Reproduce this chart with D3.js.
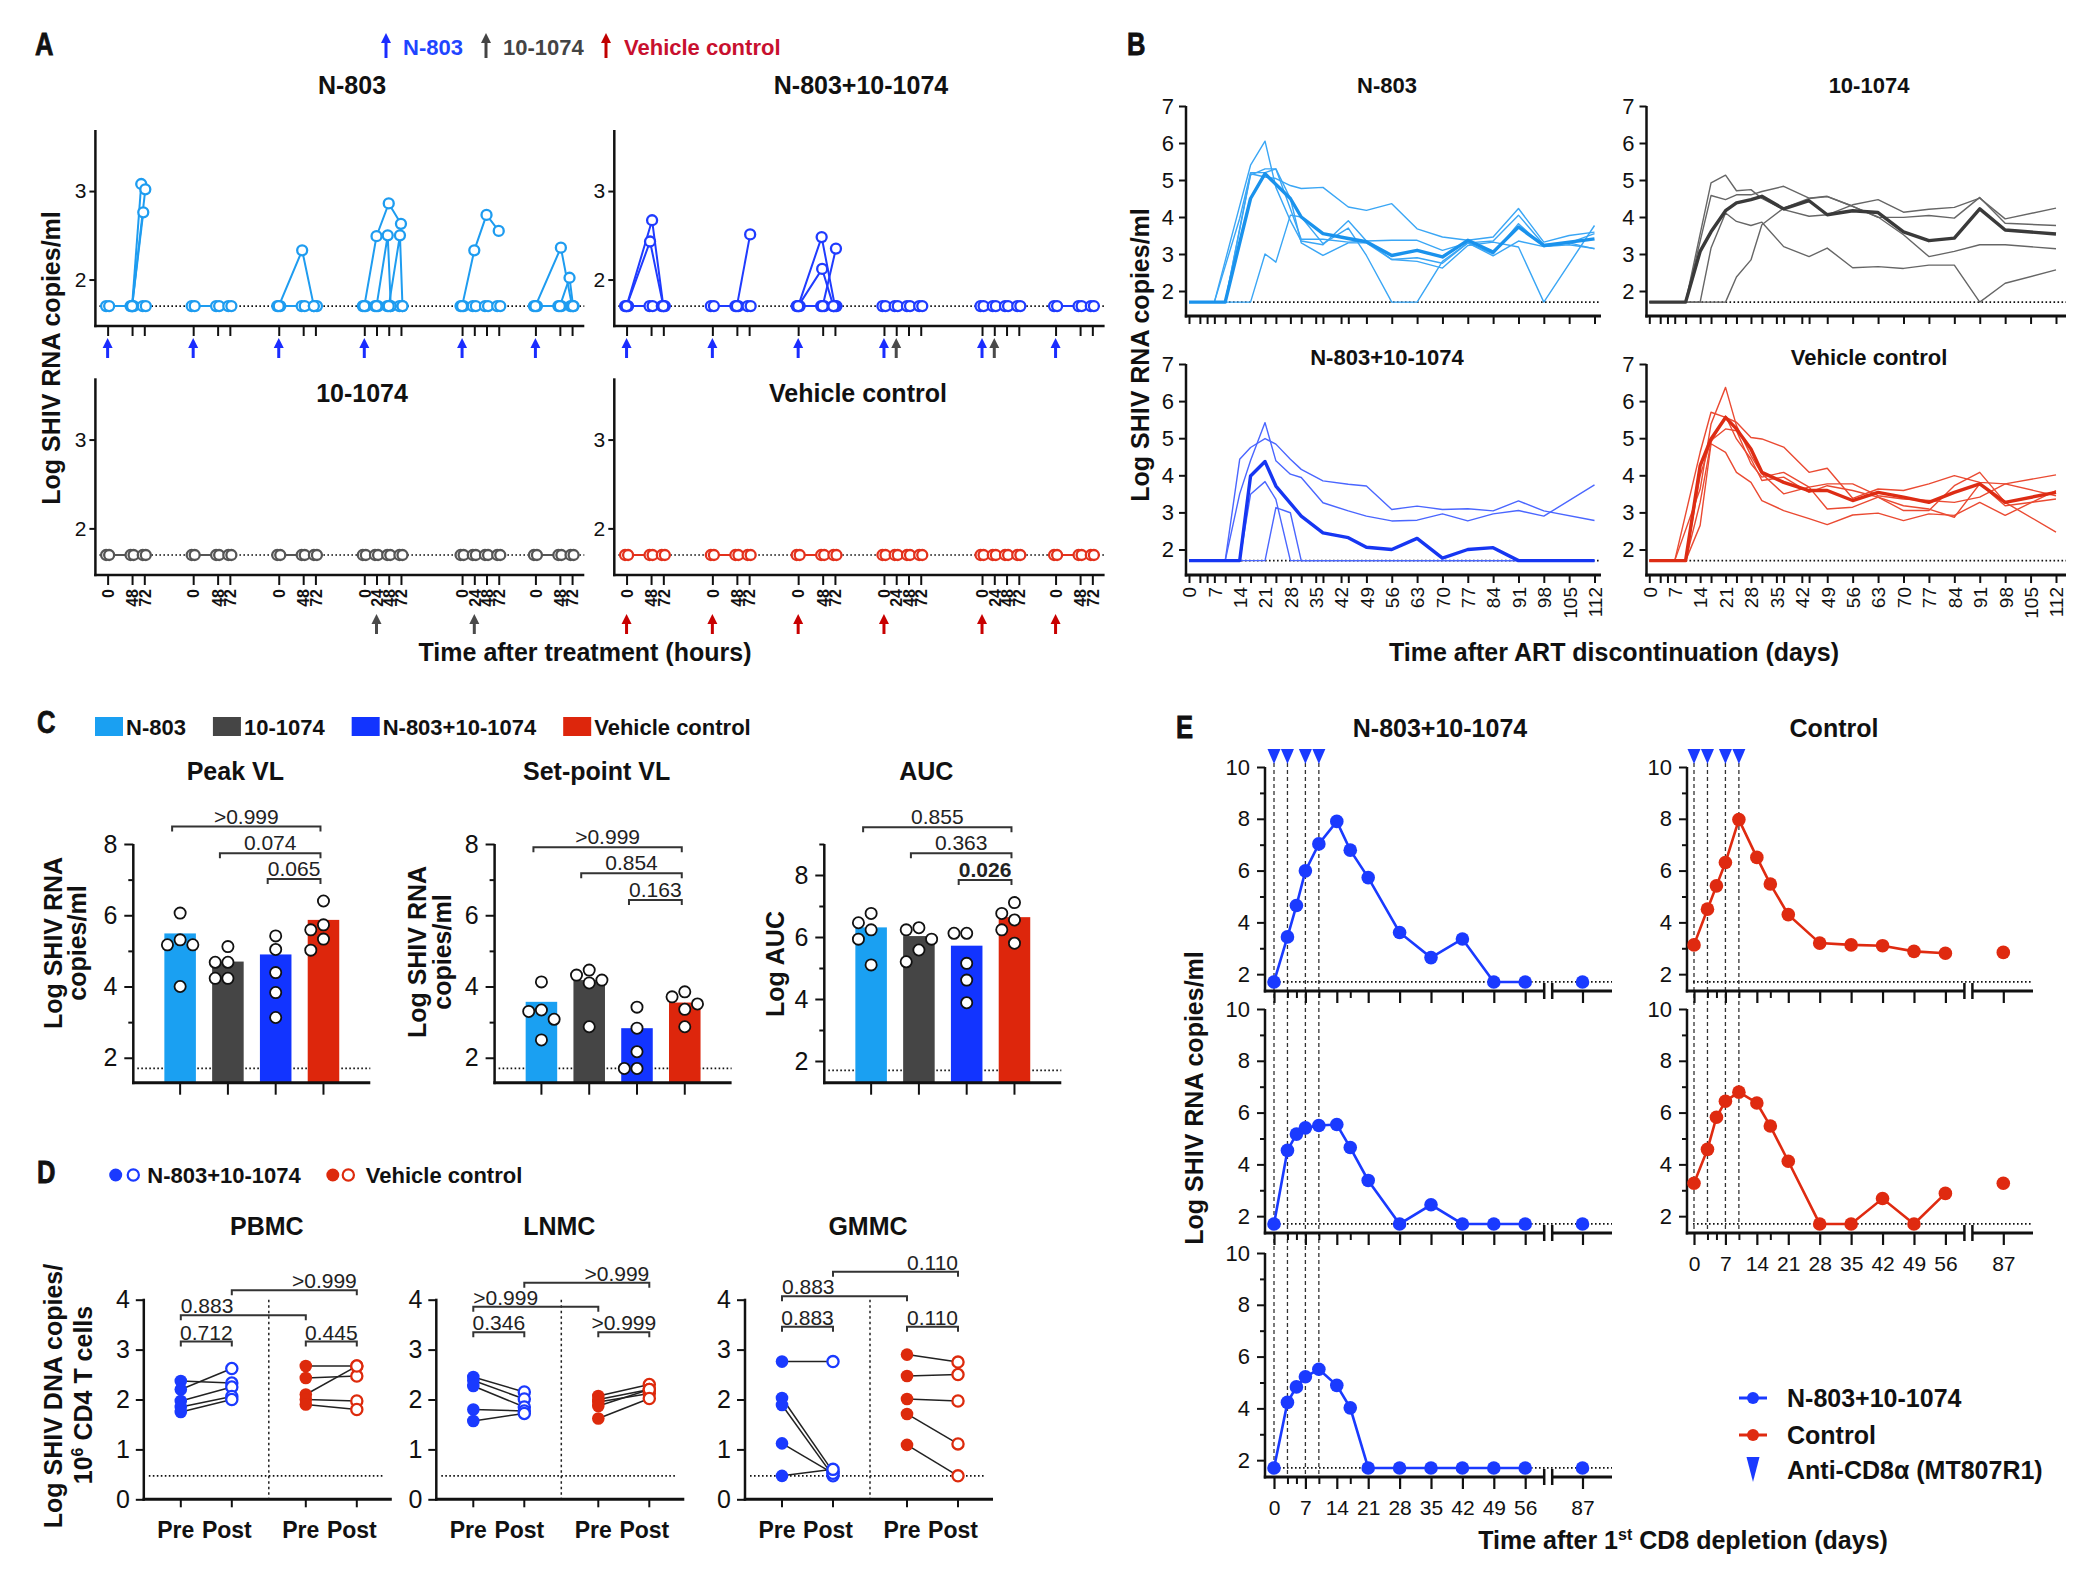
<!DOCTYPE html>
<html>
<head>
<meta charset="utf-8">
<script src="https://cdn.jsdelivr.net/npm/d3@7/dist/d3.min.js"></script>
<style>
  html,body{margin:0;padding:0;background:#fff;}
  svg{display:block;}
</style>
</head>
<body>
<svg id="fig" width="2100" height="1578" viewBox="0 0 2100 1578"></svg>
<script>
// ======================= DATA =======================
const LOD = 1.7;

// ---- Panel A: VL after each treatment (hours after dose) ----
const A_doseDays = [0, 7, 14, 21, 29, 35];
const A_sampleHours = [[0,48,72],[0,48,72],[0,48,72],[0,24,48,72],[0,24,48,72],[0,48,72]];
const A_mabDays = [22, 30];
const A_lodHours = [
  [-3,3,45,51,69,75],
  [-3,3,45,51,69,75],
  [-3,3,45,51,69,75],
  [-3,3,21,27,45,51,69,75],
  [-3,3,21,27,45,51,69,75],
  [-3,3,45,51,69,75]
];
// [dose window, [[hour, log VL], ...]]
const A_N803 = [
  [0, [[48,1.7],[66,3.08]]],
  [0, [[48,1.7],[70,2.76]]],
  [0, [[48,1.7],[74,3.02]]],
  [2, [[0,1.7],[46,2.33],[69,1.7]]],
  [3, [[0,1.7],[24,2.49],[48,2.86],[72,2.63]]],
  [3, [[24,1.7],[46,2.50],[52,1.7]]],
  [3, [[48,1.7],[70,2.50],[75,1.7]]],
  [4, [[0,1.7],[24,2.33],[48,2.73],[72,2.55]]],
  [5, [[0,1.7],[50,2.36],[72,1.7]]],
  [5, [[48,1.7],[67,2.02],[74,1.7]]]
];
const A_COMBO = [
  [0, [[0,1.7],[46,2.43],[72,1.7]]],
  [0, [[0,1.7],[50,2.67],[72,1.7]]],
  [1, [[48,1.7],[74,2.51]]],
  [2, [[0,1.7],[46,2.48],[72,1.7]]],
  [2, [[0,1.7],[47,2.12],[69,1.7]]],
  [2, [[48,1.7],[74,2.35]]]
];

// ---- Panel B: VL after ART discontinuation ----
const B_days = [0,7,10,14,17,21,24,28,31,37,44,49,56,63,70,77,84,91,98,105,112];
const B_ticks = [0,3,5,7,10,14,17,21,24,28,31,35,37,42,44,49,56,63,70,77,84,91,98,105,112];
const B_N803_median = [1.7,1.7,1.7,null,4.5,5.17,null,4.5,4.0,3.55,3.42,3.33,2.96,3.1,2.92,3.37,3.05,3.73,3.23,null,3.41];
const B_N803_animals = [
  [1.7,1.7,null,4.3,5.4,6.05,4.8,3.9,3.35,3.25,3.9,3.35,2.85,2.9,2.75,3.3,3.35,4.05,3.25,3.3,3.55],
  [1.7,1.7,1.7,null,5.17,5.08,5.04,4.85,4.77,4.8,4.27,4.18,4.36,3.68,3.46,3.37,3.46,4.23,3.32,3.5,3.59],
  [1.7,1.7,1.7,1.7,1.7,3.0,2.78,4.05,4.0,3.28,3.7,2.96,1.7,1.7,2.8,3.3,2.95,3.35,3.2,3.25,3.15],
  [1.7,1.7,1.7,null,5.13,5.3,5.3,4.5,3.3,2.96,3.3,3.3,2.85,2.8,2.62,3.23,3.32,3.19,1.7,null,3.77],
  [1.7,1.7,null,3.96,5.2,5.2,5.3,4.22,3.4,3.4,3.32,3.35,3.37,3.37,3.1,3.3,3.0,3.82,3.2,3.3,3.14]
];
const B_MAB_median = [1.7,1.7,1.7,3.07,3.6,4.17,4.38,4.47,4.56,4.22,4.44,4.06,4.17,4.12,3.6,3.36,3.43,4.22,3.65,null,3.54];
const B_MAB_animals = [
  [1.7,1.7,1.7,null,4.92,5.13,4.71,4.74,4.5,4.2,4.02,4.06,4.33,4.47,4.13,4.21,4.26,4.51,3.95,null,4.24],
  [1.7,1.7,1.7,null,4.58,4.47,4.6,4.6,4.69,4.83,4.51,4.56,4.29,3.99,3.99,4.04,3.97,4.53,3.83,null,3.77],
  [1.7,1.7,1.7,1.7,3.16,4.11,3.88,3.77,3.86,3.2,2.93,3.16,2.63,2.66,2.61,2.7,2.7,1.7,2.21,null,2.57],
  [1.7,1.7,1.7,1.7,1.7,1.7,2.38,2.84,3.79,4.24,4.5,4.55,4.29,4.0,3.52,2.93,3.07,3.25,3.25,null,3.14]
];
const B_COMBO_median = [1.7,1.7,1.7,1.7,3.98,4.37,3.71,null,2.9,2.45,2.32,2.06,2.0,2.3,1.77,2.0,2.05,1.7,1.7,1.7,1.7];
const B_COMBO_animals = [
  [1.7,1.7,1.7,3.5,4.4,5.42,4.39,4.03,3.94,3.26,3.04,2.9,2.77,2.79,2.96,2.77,2.96,3.05,2.9,null,3.74],
  [1.7,1.7,1.7,4.43,4.75,4.99,4.84,4.43,4.16,3.85,3.76,3.71,3.08,3.17,3.08,3.1,3.04,3.31,3.04,null,2.78],
  [1.7,1.7,1.7,1.7,3.49,3.83,3.35,1.7,1.7,1.7,1.7,1.7,1.7,1.7,1.7,1.7,1.7,1.7,1.7,1.7,1.7],
  [1.7,1.7,1.7,1.7,1.7,1.7,3.13,2.99,1.7,1.7,1.7,1.7,1.7,1.7,1.7,1.7,1.7,1.7,1.7,1.7,1.7]
];
const B_VEH_median = [1.7,1.7,1.7,4.26,4.98,5.56,5.25,4.71,4.08,3.81,3.59,3.59,3.32,3.54,3.41,3.27,3.54,3.77,3.27,null,3.54];
const B_VEH_animals = [
  [1.7,1.7,null,4.62,5.7,5.56,5.43,5.02,4.98,4.76,4.08,4.19,3.38,3.63,3.59,3.77,3.99,3.81,3.77,null,4.01],
  [1.7,1.7,null,3.63,5.38,6.37,5.34,4.53,4.04,3.5,3.68,3.77,3.77,3.45,3.36,3.32,3.27,3.41,3.77,null,3.45],
  [1.7,1.7,1.7,2.65,4.85,4.62,4.08,3.81,3.32,3.05,2.83,2.67,2.93,2.98,2.78,2.96,2.92,3.27,2.92,null,3.59],
  [1.7,1.7,1.7,3.99,4.94,5.25,5.2,4.31,3.95,4.08,3.68,3.09,3.14,3.41,3.05,3.05,3.72,4.08,3.27,null,2.47],
  [1.7,1.7,1.7,3.27,4.89,5.6,4.98,4.44,3.86,3.95,3.54,3.72,3.59,3.41,3.18,3.09,2.87,3.77,3.18,null,3.36]
];

// ---- Panel C ----
const C_groups = ["N-803","10-1074","N-803+10-1074","Vehicle control"];
const C_peak = [5.49, 4.70, 4.90, 5.87];
const C_peakPts = [[6.06,5.31,5.17,5.17,4.0],[5.12,4.68,4.68,4.23,4.23],[5.42,5.04,4.39,3.83,3.13],[6.40,5.73,5.59,5.33,5.02]];
const C_set = [3.57, 4.18, 2.83, 3.55];
const C_setPts = [[4.13,3.34,3.30,3.08,2.50],[4.46,4.32,4.18,4.10,2.87],[3.42,2.83,2.17,1.7,1.7],[3.85,3.71,3.51,3.36,2.87]];
const C_auc = [6.31, 6.03, 5.72, 6.64];
const C_aucPts = [[6.76,6.46,6.23,5.93,5.10],[6.30,6.23,5.93,5.58,5.20],[6.12,6.12,5.15,4.61,3.88],[7.11,6.76,6.55,6.23,5.80]];
const C_peakBr = [{a:0,b:3,p:">0.999",lv:8.49},{a:1,b:3,p:"0.074",lv:7.74},{a:2,b:3,p:"0.065",lv:7.02}];
const C_setBr  = [{a:0,b:3,p:">0.999",lv:7.91},{a:1,b:3,p:"0.854",lv:7.18},{a:2,b:3,p:"0.163",lv:6.43}];
const C_aucBr  = [{a:0,b:3,p:"0.855",lv:9.54},{a:1,b:3,p:"0.363",lv:8.70},{a:2,b:3,p:"0.026",lv:7.84,bold:true}];

// ---- Panel D ----
const D_tissues = ["PBMC","LNMC","GMMC"];
const D_LOD = 0.47;
const D_preCombo  = [[2.37,2.20,1.97,1.85,1.75],[2.45,2.38,2.27,1.80,1.57],[2.76,2.03,1.89,1.12,0.47]];
const D_postCombo = [[2.33,2.62,2.25,2.06,2.00],[2.15,2.01,1.85,1.77,1.72],[2.76,0.55,0.47,0.52,0.60]];
const D_preVeh    = [[2.67,2.43,2.10,2.00,1.90],[2.07,2.00,1.95,1.87,1.62],[2.90,2.47,2.01,1.71,1.09]];
const D_postVeh   = [[2.67,2.47,2.67,1.97,1.80],[2.30,2.20,2.12,2.20,2.02],[2.75,2.50,1.97,1.11,0.47]];
// brackets: slots 0=Pre combo,1=Post combo,2=Pre vehicle,3=Post vehicle
const D_brackets = [
  [{a:0,b:1,p:"0.712",lv:3.16,al:"middle"},{a:2,b:3,p:"0.445",lv:3.16,al:"middle"},{a:0,b:2,p:"0.883",lv:3.69,al:"start"},{a:1,b:3,p:">0.999",lv:4.19,al:"end"}],
  [{a:0,b:1,p:"0.346",lv:3.35,al:"middle"},{a:2,b:3,p:">0.999",lv:3.35,al:"middle"},{a:0,b:2,p:">0.999",lv:3.86,al:"start"},{a:1,b:3,p:">0.999",lv:4.34,al:"end"}],
  [{a:0,b:1,p:"0.883",lv:3.46,al:"middle"},{a:2,b:3,p:"0.110",lv:3.46,al:"middle"},{a:0,b:2,p:"0.883",lv:4.07,al:"start"},{a:1,b:3,p:"0.110",lv:4.56,al:"end"}]
];

// ---- Panel E ----
const E_days = [0,3,5,7,10,14,17,21,28,35,42,49,56,87];
const E_majorTicks = [0,7,14,21,28,35,42,49,56,87];
const E_minorTicks = [3,5,10,17];
const E_cd8Days = [0,3,7,10];
const E_combo = [
  [1.7,3.44,4.65,5.99,7.03,7.9,6.79,5.73,3.61,2.64,3.36,1.7,1.7,1.7],
  [1.7,4.54,5.17,5.41,5.5,5.54,4.65,3.38,1.7,2.44,1.7,1.7,1.7,1.7],
  [1.7,4.23,4.83,5.22,5.51,4.89,4.02,1.7,1.7,1.7,1.7,1.7,1.7,1.7]
];
const E_ctrl = [
  [3.13,4.51,5.41,6.31,7.97,6.51,5.48,4.30,3.20,3.13,3.10,2.88,2.81,2.84],
  [3.27,4.58,5.82,6.44,6.79,6.37,5.48,4.12,1.7,1.7,2.68,1.7,2.88,3.27]
];

// ======================= HELPERS =======================
const FONT = '"Liberation Sans", Arial, Helvetica, sans-serif';
const INK = "#111";
const svg = d3.select("#fig");
svg.append("rect").attr("width",2100).attr("height",1578).attr("fill","#fff");

function T(g, x, y, s, o = {}) {
  return g.append("text").attr("x", x).attr("y", y)
    .attr("font-family", FONT)
    .attr("font-size", o.size || 20)
    .attr("font-weight", o.bold ? 700 : 400)
    .attr("text-anchor", o.anchor || "middle")
    .attr("fill", o.fill || INK)
    .text(s);
}
function VT(g, xc, yc, s, o = {}) {
  const size = o.size || 25;
  const bx = xc + 0.36 * size;
  return T(g, bx, yc, s, Object.assign({bold:true, size}, o)).attr("transform", `rotate(-90,${bx},${yc})`);
}
function L(g, x1, y1, x2, y2, o = {}) {
  return g.append("line").attr("x1",x1).attr("y1",y1).attr("x2",x2).attr("y2",y2)
    .attr("stroke", o.stroke || INK).attr("stroke-width", o.w || 2)
    .attr("stroke-dasharray", o.dash || null);
}
function letter(g, x, y, s) {
  T(g, x, y, s, {size:32, bold:true, anchor:"start"})
    .attr("transform", `translate(${x},0) scale(0.8,1) translate(${-x},0)`)
    .attr("stroke", INK).attr("stroke-width", 0.8);
}
function upArrow(g, x, tipY, baseY, color) {
  g.append("line").attr("x1",x).attr("x2",x).attr("y1",baseY).attr("y2",tipY+6).attr("stroke",color).attr("stroke-width",3);
  g.append("path").attr("d",`M${x},${tipY} L${x-5},${tipY+10} L${x+5},${tipY+10} Z`).attr("fill",color);
}
function styleAx(sel, size, bold, sw) {
  sel.attr("font-family", FONT).attr("font-size", size).attr("font-weight", bold ? 700 : 400);
  sel.select(".domain").remove();
  sel.selectAll(".tick line").attr("stroke", INK).attr("stroke-width", sw);
  sel.selectAll(".tick text").attr("fill", INK);
  return sel;
}
const DOT = "1.6,2.4";

// ======================= PANEL A =======================
(function(){
  const g = svg.append("g");
  letter(g, 35, 55, "A");
  upArrow(g, 386, 33, 58, "#1a2cff");
  T(g, 403, 55, "N-803", {size:22, bold:true, anchor:"start", fill:"#1f45ff"});
  upArrow(g, 486, 33, 58, "#444");
  T(g, 503, 55, "10-1074", {size:22, bold:true, anchor:"start", fill:"#444"});
  upArrow(g, 606, 33, 58, "#c00000");
  T(g, 624, 55, "Vehicle control", {size:22, bold:true, anchor:"start", fill:"#c8102e"});

  const cols = {left:[95.4, 584.3], right:[614.3, 1104.6]};
  const rows = {top:[326, 130], bottom:[575, 378.3]};
  const panels = [
    {title:"N-803", titleX:352, col:"left", row:"top", color:"#1e9cf0", traces:A_N803, arrows:[["#1a2cff", A_doseDays]]},
    {title:"N-803+10-1074", titleX:861, col:"right", row:"top", color:"#1f3bff", traces:A_COMBO, arrows:[["#1a2cff", A_doseDays],["#4a4a4a", A_mabDays]]},
    {title:"10-1074", titleX:362, col:"left", row:"bottom", color:"#555555", traces:[], arrows:[["#4a4a4a", A_mabDays]]},
    {title:"Vehicle control", titleX:858, col:"right", row:"bottom", color:"#e3311c", traces:[], arrows:[["#c80000", A_doseDays]]}
  ];
  const tickDays = [], tickLab = [];
  A_doseDays.forEach((d,i) => A_sampleHours[i].forEach(h => { tickDays.push(d + h/24); tickLab.push(h); }));

  panels.forEach(p => {
    const [xl, xr] = cols[p.col], [yb, yt] = rows[p.row];
    const x = d3.scaleLinear().domain([-1, 39]).range([xl, xr]);
    const y = d3.scaleLinear().domain([1.475, 3.69]).range([yb, yt]);
    const isTop = p.row === "top";
    T(g, p.titleX, isTop ? 94 : 402, p.title, {size:25, bold:true});
    L(g, xl + 4, y(LOD), xr, y(LOD), {w:1.6, dash:DOT});
    L(g, xl, yt, xl, yb + 1.2, {w:2.5});
    L(g, xl - 1.2, yb, xr, yb, {w:2.5});
    const ya = g.append("g").attr("transform", `translate(${xl},0)`)
      .call(d3.axisLeft(y).tickValues([2,3]).tickSize(6).tickPadding(3).tickFormat(d3.format("d")));
    styleAx(ya, 21, false, 2);
    const xa = g.append("g").attr("transform", `translate(0,${yb})`)
      .call(d3.axisBottom(x).tickValues(tickDays).tickSize(10).tickFormat((d,i) => isTop ? "" : tickLab[i]));
    styleAx(xa, 16, true, 2);
    if (!isTop) {
      xa.selectAll(".tick text").attr("transform","rotate(-90)").attr("x",-14).attr("y",0)
        .attr("dy","0.36em").attr("text-anchor","end");
    }
    const ln = d3.line().x(d => x(d[0])).y(d => y(d[1]));
    const all = [];
    A_lodHours.forEach((hrs, i) => all.push(hrs.map(h => [A_doseDays[i] + h/24, LOD])));
    p.traces.forEach(([w, pts]) => all.push(pts.map(([h, v]) => [A_doseDays[w] + h/24, v])));
    all.forEach(tr => g.append("path").attr("d", ln(tr)).attr("fill","none")
      .attr("stroke", p.color).attr("stroke-width", 2));
    all.forEach(tr => g.selectAll(null).data(tr).join("circle")
      .attr("cx", d => x(d[0])).attr("cy", d => y(d[1])).attr("r", 5)
      .attr("fill", "#fff").attr("stroke", p.color).attr("stroke-width", 2.3));
    const tip = isTop ? 338 : 614, base = isTop ? 358 : 634;
    p.arrows.forEach(([col, days]) => days.forEach(d => upArrow(g, x(d), tip, base, col)));
  });
  VT(g, 51, 358, "Log SHIV RNA copies/ml", {size:25});
  T(g, 585, 661, "Time after treatment (hours)", {size:25, bold:true});
})();

// ======================= PANEL B =======================
(function(){
  const g = svg.append("g");
  letter(g, 1127, 55, "B");
  const cols = {left:{axisX:1186, r:[1189,1594.5], end:1601, titleX:1387}, right:{axisX:1646.5, r:[1649.3,2056], end:2066, titleX:1869}};
  const rows = {top:{y7:106, y2:291, axisY:316, tb:93}, bottom:{y7:364, y2:549.5, axisY:575, tb:365}};
  const panels = [
    {title:"N-803", col:"left", row:"top", med:B_N803_median, ani:B_N803_animals, thin:"#3aa6f5", thick:"#1a92ec"},
    {title:"10-1074", col:"right", row:"top", med:B_MAB_median, ani:B_MAB_animals, thin:"#666", thick:"#3a3a3a"},
    {title:"N-803+10-1074", col:"left", row:"bottom", med:B_COMBO_median, ani:B_COMBO_animals, thin:"#4a66ff", thick:"#1636f2"},
    {title:"Vehicle control", col:"right", row:"bottom", med:B_VEH_median, ani:B_VEH_animals, thin:"#ea4a32", thick:"#dd2c14"}
  ];
  panels.forEach(p => {
    const c = cols[p.col], r = rows[p.row];
    const x = d3.scaleLinear().domain([0,112]).range(c.r);
    const y = d3.scaleLinear().domain([2,7]).range([r.y2, r.y7]);
    const isBottom = p.row === "bottom";
    T(g, c.titleX, r.tb, p.title, {size:22, bold:true});
    L(g, c.axisX + 3, y(LOD), c.end, y(LOD), {w:1.6, dash:DOT});
    L(g, c.axisX, r.y7, c.axisX, r.axisY + 1.5, {w:2.5});
    L(g, c.axisX - 1.2, r.axisY, c.end, r.axisY, {w:3});
    const ya = g.append("g").attr("transform", `translate(${c.axisX},0)`)
      .call(d3.axisLeft(y).tickValues([2,3,4,5,6,7]).tickSize(7).tickPadding(5).tickFormat(d3.format("d")));
    styleAx(ya, 22, false, 2);
    const xa = g.append("g").attr("transform", `translate(0,${r.axisY})`)
      .call(d3.axisBottom(x).tickValues(B_ticks).tickSize(8)
        .tickFormat(d => (isBottom && d % 7 === 0) ? d : ""));
    styleAx(xa, 19, false, 2);
    if (isBottom) {
      xa.selectAll(".tick text").attr("transform","rotate(-90)").attr("x",-12).attr("y",0)
        .attr("dy","0.36em").attr("text-anchor","end");
    }
    const ln = d3.line().x(d => x(d[0])).y(d => y(d[1]));
    const toPts = arr => B_days.map((d,i) => [d, arr[i]]).filter(q => q[1] != null);
    p.ani.forEach(a => g.append("path").attr("d", ln(toPts(a))).attr("fill","none")
      .attr("stroke", p.thin).attr("stroke-width", 1.4).attr("stroke-linejoin","round"));
    g.append("path").attr("d", ln(toPts(p.med))).attr("fill","none")
      .attr("stroke", p.thick).attr("stroke-width", 3.4).attr("stroke-linejoin","round");
  });
  VT(g, 1140, 355, "Log SHIV RNA copies/ml", {size:25});
  T(g, 1614, 661, "Time after ART discontinuation (days)", {size:25, bold:true});
})();

// ======================= PANEL C =======================
(function(){
  const g = svg.append("g");
  letter(g, 37, 733, "C");
  const colors = ["#1aa0f2", "#454545", "#1234ff", "#dd260c"];
  let lx = 95;
  C_groups.forEach((name, i) => {
    g.append("rect").attr("x", lx).attr("y", 717).attr("width", 28).attr("height", 19).attr("fill", colors[i]);
    const t = T(g, lx + 31, 735, name, {size:22, bold:true, anchor:"start"});
    lx += 31 + t.node().getComputedTextLength() + 27;
  });
  const charts = [
    {title:"Peak VL", axisX:133.3, vals:C_peak, pts:C_peakPts, dom:[1.3,8], br:C_peakBr, ylab:[["Log SHIV RNA",52.6],["copies/ml",77]], ylabY:943},
    {title:"Set-point VL", axisX:494.6, vals:C_set, pts:C_setPts, dom:[1.3,8], br:C_setBr, ylab:[["Log SHIV RNA",417.4],["copies/ml",442]], ylabY:952},
    {title:"AUC", axisX:824.3, vals:C_auc, pts:C_aucPts, dom:[1.3,9], br:C_aucBr, ylab:[["Log AUC",775.2]], ylabY:964}
  ];
  const yB = 1082.7, yT = 844, W = 237, R = 5.6;
  charts.forEach(c => {
    const x = d3.scaleBand().domain(C_groups).range([c.axisX, c.axisX + W]).paddingInner(0.34).paddingOuter(0.65);
    const cx = i => x(C_groups[i]) + x.bandwidth()/2;
    const y = d3.scaleLinear().domain(c.dom).range([yB, yT]);
    T(g, c.axisX + 102, 780, c.title, {size:25, bold:true});
    c.ylab.forEach(([s, xc]) => VT(g, xc, c.ylabY, s, {size:25}));
    L(g, c.axisX + 4, y(LOD), c.axisX + W, y(LOD), {w:1.8, dash:DOT});
    g.selectAll(null).data(c.vals).join("rect")
      .attr("x", (d,i) => x(C_groups[i])).attr("width", x.bandwidth())
      .attr("y", d => y(d)).attr("height", d => y(c.dom[0]) - y(d))
      .attr("fill", (d,i) => colors[i]);
    c.pts.forEach((vals, gi) => {
      const placed = [];
      const order = vals.map((v,i) => i).sort((a,b) => vals[b] - vals[a]);
      order.forEach(i => {
        const py = y(vals[i]);
        for (const k of [0,-1,1,-2,2]) {
          const px = cx(gi) + k * (2*R + 1.5);
          if (placed.every(q => Math.hypot(q[0]-px, q[1]-py) >= 2*R + 1)) { placed.push([px, py]); break; }
        }
      });
      g.selectAll(null).data(placed).join("circle")
        .attr("cx", d => d[0]).attr("cy", d => d[1]).attr("r", R)
        .attr("fill", "#fff").attr("stroke", "#111").attr("stroke-width", 1.8);
    });
    L(g, c.axisX, yT, c.axisX, yB + 1.5, {w:2.5});
    L(g, c.axisX - 1.2, yB, c.axisX + W, yB, {w:3});
    const major = [2,4,6,8];
    const minor = d3.range(3, c.dom[1] + 0.01, 2);
    const ya = g.append("g").attr("transform", `translate(${c.axisX},0)`)
      .call(d3.axisLeft(y).tickValues(major).tickSize(9).tickPadding(7).tickFormat(d3.format("d")));
    styleAx(ya, 25, false, 2);
    const ym = g.append("g").attr("transform", `translate(${c.axisX},0)`)
      .call(d3.axisLeft(y).tickValues(minor).tickSize(5).tickFormat(""));
    styleAx(ym, 10, false, 2);
    C_groups.forEach((gname, i) => L(g, cx(i), yB, cx(i), yB + 12, {w:2}));
    c.br.forEach(b => {
      const x1 = cx(b.a) - 8, x2 = cx(b.b) - 3, yy = y(b.lv);
      g.append("path").attr("d", `M${x1},${yy+5} V${yy} H${x2} V${yy+5}`)
        .attr("fill","none").attr("stroke", "#333").attr("stroke-width", 2);
      T(g, (x1 + x2)/2, yy - 3, b.p, {size:21, bold:!!b.bold, fill:"#222"});
    });
  });
})();

// ======================= PANEL D =======================
(function(){
  const g = svg.append("g");
  letter(g, 37, 1183, "D");
  const cBlue = "#1a3aff", cRed = "#dd2a0c";
  g.append("circle").attr("cx",115.7).attr("cy",1175).attr("r",6.5).attr("fill",cBlue);
  g.append("circle").attr("cx",133.3).attr("cy",1175).attr("r",5.6).attr("fill","#fff").attr("stroke",cBlue).attr("stroke-width",2.2);
  const t1 = T(g, 147.3, 1183, "N-803+10-1074", {size:22, bold:true, anchor:"start"});
  const rx = 147.3 + t1.node().getComputedTextLength() + 32;
  g.append("circle").attr("cx",rx).attr("cy",1175).attr("r",6.5).attr("fill",cRed);
  g.append("circle").attr("cx",rx+15.5).attr("cy",1175).attr("r",5.6).attr("fill","#fff").attr("stroke",cRed).attr("stroke-width",2.2);
  T(g, rx + 33, 1183, "Vehicle control", {size:22, bold:true, anchor:"start"});

  const axes = [143.8, 436.3, 745];
  const y = d3.scaleLinear().domain([0,4]).range([1499.3, 1299.7]);
  D_tissues.forEach((tis, ti) => {
    const ax = axes[ti];
    const outer = d3.scaleBand().domain(["combo","veh"]).range([ax, ax + 250]);
    const inner = d3.scalePoint().domain(["Pre","Post"]).range([37, 88]);
    const slot = [outer("combo")+inner("Pre"), outer("combo")+inner("Post"), outer("veh")+inner("Pre"), outer("veh")+inner("Post")];
    T(g, ax + 123, 1235, tis, {size:25, bold:true});
    L(g, ax + 5, y(D_LOD), ax + 240, y(D_LOD), {w:1.8, dash:DOT});
    L(g, outer("veh"), y(4), outer("veh"), y(0), {w:1.5, dash:"2.5,3", stroke:"#222"});
    L(g, ax, y(4) - 1, ax, y(0) + 1.5, {w:2.5});
    L(g, ax - 1.2, y(0), ax + 248, y(0), {w:3});
    const ya = g.append("g").attr("transform", `translate(${ax},0)`)
      .call(d3.axisLeft(y).tickValues([0,1,2,3,4]).tickSize(8).tickPadding(6).tickFormat(d3.format("d")));
    styleAx(ya, 25, false, 2);
    slot.forEach((sx, i) => {
      L(g, sx, y(0), sx, y(0) + 8, {w:2});
      T(g, sx - 5, 1538, i % 2 === 0 ? "Pre" : "Post", {size:23, bold:true});
    });
    const sets = [[D_preCombo[ti], D_postCombo[ti], cBlue, 0], [D_preVeh[ti], D_postVeh[ti], cRed, 2]];
    sets.forEach(([pre, post, col, s0]) => {
      pre.forEach((v, i) => L(g, slot[s0], y(v), slot[s0+1], y(post[i]), {w:1.5, stroke:"#222"}));
      g.selectAll(null).data(pre).join("circle").attr("cx", slot[s0]).attr("cy", d => y(d)).attr("r", 6.3).attr("fill", col);
      g.selectAll(null).data(post).join("circle").attr("cx", slot[s0+1]).attr("cy", d => y(d)).attr("r", 5.6)
        .attr("fill", "#fff").attr("stroke", col).attr("stroke-width", 2.3);
    });
    D_brackets[ti].forEach(b => {
      const x1 = slot[b.a], x2 = slot[b.b], yy = y(b.lv);
      g.append("path").attr("d", `M${x1},${yy+5} V${yy} H${x2} V${yy+5}`)
        .attr("fill","none").attr("stroke","#333").attr("stroke-width",2);
      const tx = b.al === "start" ? x1 : b.al === "end" ? x2 : (x1 + x2)/2;
      T(g, tx, yy - 2, b.p, {size:21, anchor:b.al, fill:"#222"});
    });
  });
  VT(g, 52.6, 1396, "Log SHIV DNA copies/", {size:25});
  const bx = 82.8 + 9;
  const t = g.append("text").attr("x", bx).attr("y", 1395).attr("transform", `rotate(-90,${bx},1395)`)
    .attr("text-anchor","middle").attr("font-family",FONT).attr("font-size",25).attr("font-weight",700).attr("fill",INK);
  t.append("tspan").text("10");
  t.append("tspan").attr("dy",-9).attr("font-size",16).text("6");
  t.append("tspan").attr("dy",9).text("\u00A0CD4 T cells");
})();

// ======================= PANEL E =======================
(function(){
  const g = svg.append("g");
  letter(g, 1176, 738, "E");
  const triColor = "#1a3aff";
  const cols = [
    {axisX:1265, r:[1274,1525.2,1582.5], end:1612, series:E_combo, color:"#1a3aff", title:"N-803+10-1074", titleX:1440},
    {axisX:1687, r:[1694,1945.4,2003.3], end:2033, series:E_ctrl, color:"#df2a10", title:"Control", titleX:1834}
  ];
  const y10s = [767, 1009, 1253];
  cols.forEach(c => {
    const x = d3.scaleLinear().domain([0,56,87]).range(c.r);
    T(g, c.titleX, 737, c.title, {size:25, bold:true});
    const lastAxisY = y10s[c.series.length - 1] + 224;
    E_cd8Days.forEach(d => L(g, x(d), 763, x(d), lastAxisY, {w:1.3, dash:"4,3", stroke:"#333"}));
    E_cd8Days.forEach(d => g.append("path").attr("d", `M${x(d)-6.5},749 L${x(d)+6.5},749 L${x(d)},764 Z`).attr("fill", triColor));
    c.series.forEach((vals, ri) => {
      const y10 = y10s[ri], axisY = y10 + 224;
      const y = d3.scaleLinear().domain([1.35,10]).range([axisY, y10]);
      const isLast = ri === c.series.length - 1;
      L(g, c.axisX + 6, y(LOD), c.end, y(LOD), {w:1.8, dash:DOT});
      L(g, c.axisX, y10, c.axisX, axisY + 1.5, {w:2.5});
      const xb1 = x(56) + 19, xb2 = x(56) + 27;
      L(g, c.axisX - 1.2, axisY, xb1, axisY, {w:3});
      L(g, xb2, axisY, c.end, axisY, {w:3});
      L(g, xb1, axisY - 8, xb1, axisY + 8, {w:2.5});
      L(g, xb2, axisY - 8, xb2, axisY + 8, {w:2.5});
      const ya = g.append("g").attr("transform", `translate(${c.axisX},0)`)
        .call(d3.axisLeft(y).tickValues([2,4,6,8,10]).tickSize(8).tickPadding(7).tickFormat(d3.format("d")));
      styleAx(ya, 22, false, 2);
      const ym = g.append("g").attr("transform", `translate(${c.axisX},0)`)
        .call(d3.axisLeft(y).tickValues([3,5,7,9]).tickSize(5).tickFormat(""));
      styleAx(ym, 10, false, 2);
      const xa = g.append("g").attr("transform", `translate(0,${axisY})`)
        .call(d3.axisBottom(x).tickValues(E_majorTicks).tickSize(12).tickPadding(11)
          .tickFormat(d => isLast ? d : ""));
      styleAx(xa, 21, false, 2.2);
      const xm = g.append("g").attr("transform", `translate(0,${axisY})`)
        .call(d3.axisBottom(x).tickValues(E_minorTicks).tickSize(7).tickFormat(""));
      styleAx(xm, 10, false, 2);
      const pts = E_days.map((d, i) => [d, vals[i]]);
      const conn = pts.filter(q => q[0] <= 56);
      g.append("path").attr("d", d3.line().x(q => x(q[0])).y(q => y(q[1]))(conn))
        .attr("fill","none").attr("stroke", c.color).attr("stroke-width", 2.6);
      g.selectAll(null).data(pts).join("circle")
        .attr("cx", q => x(q[0])).attr("cy", q => y(q[1])).attr("r", 6.8).attr("fill", c.color);
    });
  });
  VT(g, 1194, 1098, "Log SHIV RNA copies/ml", {size:25});
  const tx = g.append("text").attr("x", 1683).attr("y", 1549).attr("text-anchor","middle")
    .attr("font-family",FONT).attr("font-size",25).attr("font-weight",700).attr("fill",INK);
  tx.append("tspan").text("Time after 1");
  tx.append("tspan").attr("dy",-9).attr("font-size",16).text("st");
  tx.append("tspan").attr("dy",9).text("\u00A0CD8 depletion (days)");
  [[cols[0].color, 1398, "N-803+10-1074"], [cols[1].color, 1435, "Control"]].forEach(([col, yy, s]) => {
    L(g, 1739, yy, 1767, yy, {w:3, stroke:col});
    g.append("circle").attr("cx",1753).attr("cy",yy).attr("r",6).attr("fill",col);
    T(g, 1787, yy + 9, s, {size:25, bold:true, anchor:"start"});
  });
  g.append("path").attr("d","M1746.5,1457 L1759.5,1457 L1753,1482 Z").attr("fill",triColor);
  T(g, 1787, 1479, "Anti-CD8α (MT807R1)", {size:25, bold:true, anchor:"start"});
})();
</script>
</body>
</html>
